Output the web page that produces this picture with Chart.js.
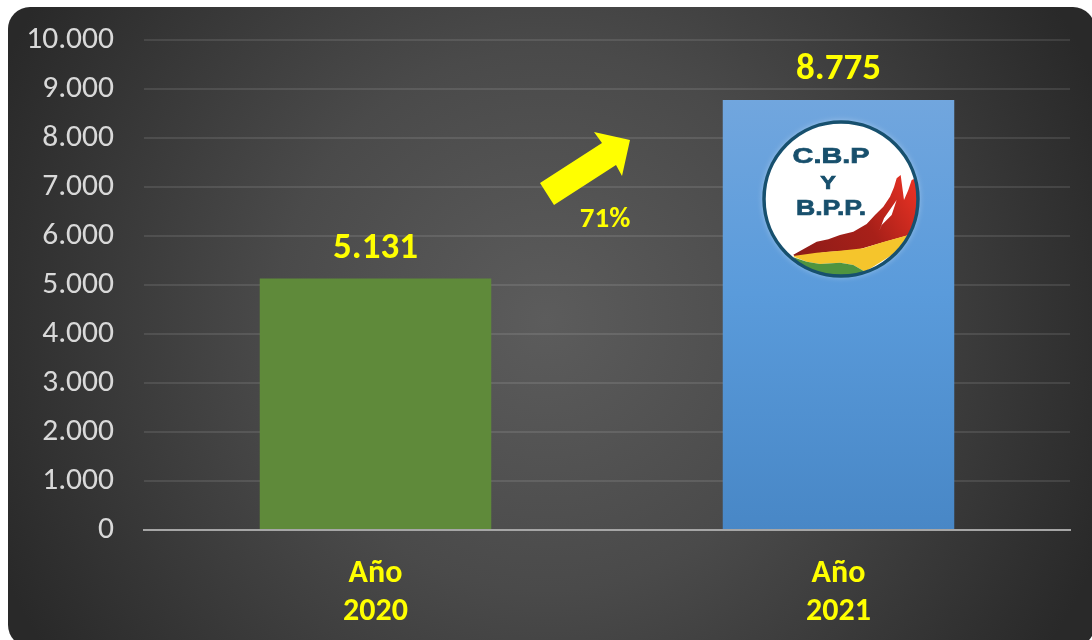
<!DOCTYPE html>
<html lang="es"><head><meta charset="utf-8">
<style>
html,body{margin:0;padding:0;background:#fff;width:1092px;height:640px;overflow:hidden}
#wrap{position:absolute;left:0;top:0;width:1092px;height:640px}
</style>
<script src="https://cdn.jsdelivr.net/npm/chart.js@4"></script>
</head><body>
<div id="wrap"><canvas id="c" width="1092" height="640"></canvas></div>
<script>
const categories = [["Año","2020"],["Año","2021"]];
const seriesValues = [5131, 8775];
const tickValues = [0,1000,2000,3000,4000,5000,6000,7000,8000,9000,10000];
const changeLabel = "71%";
const logoLines = ["C.B.P","Y","B.P.P."];

const fmt = v => String(v).replace(/\B(?=(\d{3})+$)/g,".");
const FONT = 'Carlito, Calibri, "Open Sans", sans-serif';

const backdrop = {
  id:'backdrop',
  beforeDraw(ch){
    const c=ch.ctx; c.save();
    const g=c.createRadialGradient(546,320,0,546,320,600);
    g.addColorStop(0,'#5c5c5c'); g.addColorStop(.45,'#4a4a4a'); g.addColorStop(1,'#292929');
    c.fillStyle=g;
    c.beginPath(); c.roundRect(8,7,1087,640,22); c.fill();
    c.restore();
  }
};

function poly(c,pts,fill){ // pts are in logo-local units
  c.beginPath();
  pts.forEach((p,i)=>{const x=740+p[0]/3,y=100+p[1]/3; i?c.lineTo(x,y):c.moveTo(x,y);});
  c.closePath(); c.fillStyle=fill; c.fill();
}
function wideText(c,t,cx,y,sx){
  c.save(); c.translate(cx,y); c.scale(sx,1);
  c.lineWidth=.7; c.strokeStyle=c.fillStyle; c.strokeText(t,0,0);
  c.fillText(t,0,0); c.restore();
}

const overlay = {
  id:'overlay',
  afterDatasetsDraw(ch){
    const c=ch.ctx, m=ch.getDatasetMeta(0);
    c.save();
    c.fillStyle='#ffff00'; c.textAlign='center'; c.textBaseline='alphabetic';
    c.font='bold 37px '+FONT;
    m.data.forEach((b,i)=>c.fillText(fmt(seriesValues[i]),b.x,b.y-21));
    c.beginPath();
    [[540,183],[554,205],[616,165],[622,176],[630,140],[594,132],[602,143]].forEach((p,i)=>i?c.lineTo(p[0],p[1]):c.moveTo(p[0],p[1]));
    c.closePath(); c.fill();
    c.font='bold 29px '+FONT;
    c.fillText(changeLabel,605,227);
    const cx=841,cy=199,r=77;
    c.save();
    c.shadowColor='rgba(255,255,255,.55)'; c.shadowBlur=7;
    c.beginPath(); c.arc(cx,cy,r,0,Math.PI*2); c.fillStyle='#fff'; c.fill();
    c.restore();
    c.save();
    c.beginPath(); c.arc(cx,cy,r,0,Math.PI*2); c.clip();
    const rg=c.createLinearGradient(795,250,915,180);
    rg.addColorStop(0,'#8e1c18'); rg.addColorStop(.55,'#a82019'); rg.addColorStop(1,'#ea3224');
    poly(c,[[160,464],[195,445],[230,425],[265,418],[300,405],[340,395],[380,372],[405,345],[430,320],[450,290],[462,262],[470,235],[482,225],[492,300],[505,270],[515,240],[528,235],[540,300],[535,400],[500,407],[430,427],[350,450],[260,456],[165,470]],rg);
    poly(c,[[418,392],[432,355],[470,300],[455,345],[425,375]],'#ffffff');
    poly(c,[[160,468],[230,458],[300,452],[370,445],[430,426],[505,405],[470,455],[440,475],[375,515],[340,495],[300,488],[240,492],[200,485],[165,472]],'#f5c52c');
    poly(c,[[160,472],[200,485],[240,492],[300,488],[340,495],[375,515],[300,540],[200,520]],'#4f9440');
    c.restore();
    c.beginPath(); c.arc(cx,cy,r,0,Math.PI*2); c.lineWidth=3.5; c.strokeStyle='#17506e'; c.stroke();
    c.fillStyle='#174f6c'; c.font='bold 22px "Liberation Sans", sans-serif';
    wideText(c,logoLines[0],831,163,1.31);
    c.font='bold 18px "Liberation Sans", sans-serif';
    wideText(c,logoLines[1],828,189,1.3);
    c.font='bold 22px "Liberation Sans", sans-serif';
    wideText(c,logoLines[2],831,215,1.21);
    c.restore();
  }
};

new Chart(document.getElementById('c'),{
  type:'bar',
  data:{labels:categories,datasets:[{
    data:seriesValues,
    barPercentage:.5,categoryPercentage:1,
    borderWidth:0,
    backgroundColor(ctx){
      if(ctx.dataIndex===0) return '#5f8a3a';
      const a=ctx.chart.chartArea; if(!a) return '#5b9bd5';
      const el=ctx.chart.scales.y;
      const g=ctx.chart.ctx.createLinearGradient(0,el.getPixelForValue(seriesValues[1]),0,el.getPixelForValue(0));
      g.addColorStop(0,'#71a6de'); g.addColorStop(.45,'#5a9bdb'); g.addColorStop(1,'#4887c6');
      return g;
    }
  }]},
  plugins:[backdrop,overlay],
  options:{
    responsive:false,animation:false,
    layout:{padding:{top:40,right:22,left:0,bottom:0}},
    plugins:{legend:{display:false},tooltip:{enabled:false}},
    scales:{
      y:{
        min:0,max:10000,
        afterFit(s){s.width=144;s.paddingTop=0;s.paddingBottom=0;},
        afterBuildTicks(s){s.ticks=tickValues.map(v=>({value:v}));},
        border:{display:false},
        grid:{color:'rgba(255,255,255,.1)',lineWidth:2,drawTicks:false},
        ticks:{color:'#d9d9d9',padding:30,font:{family:FONT,size:31.5},callback:v=>fmt(v)}
      },
      x:{
        afterFit(s){s.height=110;s.paddingLeft=0;s.paddingRight=0;},
        border:{display:true,color:'#a6a6a6',width:2},
        grid:{display:false},
        ticks:{color:'#ffff00',padding:17,font:{family:FONT,size:32,weight:'bold',lineHeight:1.19},maxRotation:0}
      }
    }
  }
});
</script>
</body></html>
